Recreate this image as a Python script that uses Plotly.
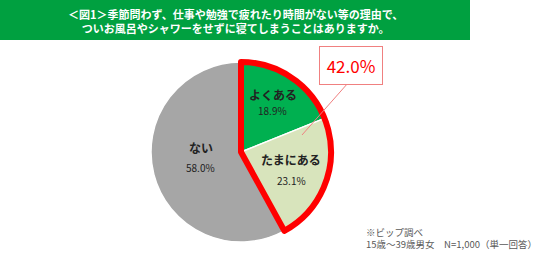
import plotly.graph_objects as go
import math

labels = ["よくある", "たまにある", "ない"]
values = [18.9, 23.1, 58.0]
colors = ["#00B050", "#D8E4BC", "#A6A6A6"]
highlight_total = round(values[0] + values[1], 1)
title_lines = ["＜図1＞季節問わず、仕事や勉強で疲れたり時間がない等の理由で、",
               "ついお風呂やシャワーをせずに寝てしまうことはありますか。"]
note_lines = ["※ビップ調べ", "15歳～39歳男女　N=1,000（単一回答）"]

W, H = 536, 256
cx, cy, r = 241, 152, 90  # pie center/radius in pixels (layout)
dom_x = [(cx - r) / W, (cx + r) / W]
dom_y = [(H - cy - r) / H, (H - cy + r) / H]

fig = go.Figure()
fig.add_trace(go.Pie(
    labels=labels, values=values, sort=False, direction="clockwise", rotation=0,
    marker=dict(colors=colors, line=dict(color="white", width=1.5)),
    textinfo="none", hoverinfo="skip", domain=dict(x=dom_x, y=dom_y), showlegend=False,
))
# red outline around the highlighted (first two) slices
fig.add_trace(go.Pie(
    labels=["hl", "rest"], values=[highlight_total, 100 - highlight_total], sort=False,
    direction="clockwise", rotation=0,
    marker=dict(colors=["rgba(0,0,0,0)", "rgba(0,0,0,0)"],
                line=dict(color=["#FF0000", "rgba(0,0,0,0)"], width=[6, 0])),
    textinfo="none", hoverinfo="skip", domain=dict(x=dom_x, y=dom_y), showlegend=False,
))

def px_to_paper(x, y):
    return x / W, 1 - y / H

# slice labels: (radial factor, angle tweak in degrees, gap between name and value)
placement = [(0.65, -1.0, 16), (0.59, 0.0, 21), (0.45, 6.0, 20)]
cum = 0
for lab, v, (rf, dang, gap) in zip(labels, values, placement):
    mid = (cum + v / 2) / 100 * 360 + dang
    cum += v
    a = math.radians(mid)
    x = cx + rf * r * math.sin(a)
    y = cy - rf * r * math.cos(a)
    px, py = px_to_paper(x, y - gap / 2)
    fig.add_annotation(x=px, y=py, xref="paper", yref="paper", showarrow=False,
                       xanchor="center", yanchor="middle", text=f"<b>{lab}</b>",
                       font=dict(size=12, color="#222222"))
    px, py = px_to_paper(x, y + gap / 2)
    fig.add_annotation(x=px, y=py, xref="paper", yref="paper", showarrow=False,
                       xanchor="center", yanchor="middle", text=f"{v:.1f}%",
                       font=dict(size=10, color="#222222"))

# callout
bx, by = px_to_paper(351, 65.5)
fig.add_annotation(x=bx, y=by, xref="paper", yref="paper", showarrow=False,
                   xanchor="center", yanchor="middle",
                   text=f"{highlight_total:.1f}%", font=dict(size=17, color="#FF0000"),
                   bordercolor="#F08080", borderwidth=1, borderpad=6, bgcolor="white",
                   width=50)
ax0, ay0 = px_to_paper(348, 83)
ax1, ay1 = px_to_paper(302, 135)
fig.add_shape(type="line", xref="paper", yref="paper", x0=ax0, y0=ay0, x1=ax1, y1=ay1,
              line=dict(color="#F08080", width=1))

# title banner
fig.add_shape(type="rect", xref="paper", yref="paper", x0=0, x1=470 / W, y0=1 - 40 / H, y1=1,
              fillcolor="#00A040", line=dict(width=0), layer="below")
fig.add_annotation(x=235 / W, y=1 - 20.5 / H, xref="paper", yref="paper", showarrow=False,
                   xanchor="center", yanchor="middle",
                   text="<br>".join(f"<b>{t}</b>" for t in title_lines),
                   font=dict(size=11, color="white"), align="center")

# note
fig.add_annotation(x=364 / W, y=1 - 237.5 / H, xref="paper", yref="paper", showarrow=False,
                   xanchor="left", yanchor="middle", text="<br>".join(note_lines),
                   font=dict(size=9.5, color="#595959"), align="left")

fig.update_layout(width=W, height=H, margin=dict(l=0, r=0, t=0, b=0),
                  paper_bgcolor="white", plot_bgcolor="white",
                  font=dict(family="Noto Sans CJK JP"))
fig.write_html("out.html")
